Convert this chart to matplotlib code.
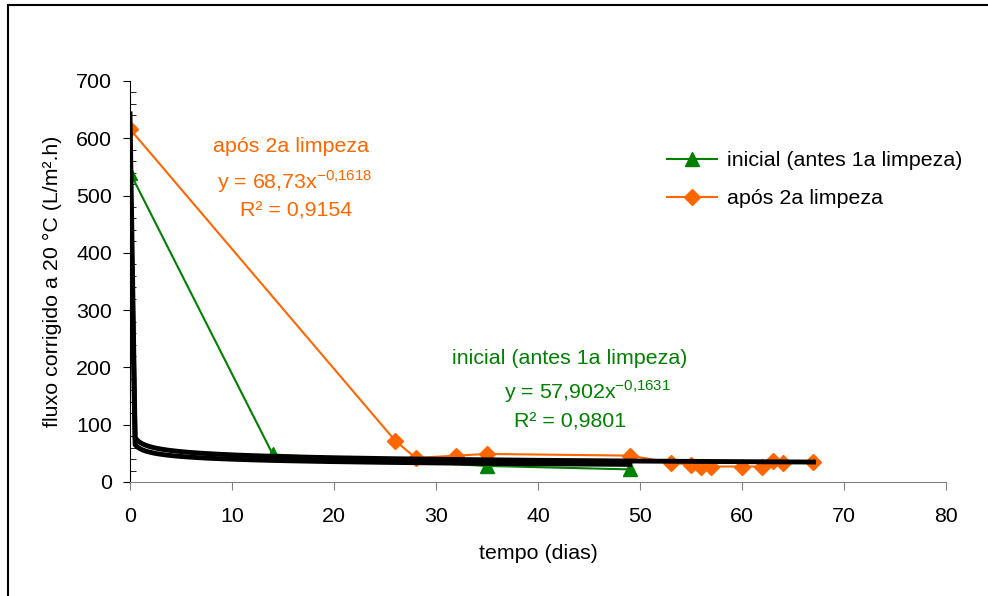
import matplotlib
matplotlib.use("Agg")
import matplotlib.pyplot as plt
import numpy as np

plt.rcParams['font.family'] = ['Liberation Sans', 'DejaVu Sans']
plt.rcParams['mathtext.fontset'] = 'custom'
plt.rcParams['mathtext.rm'] = 'Liberation Sans'

# dados
x_ini = [0, 14, 35, 49]
y_ini = [540, 48, 28, 22]

x_apos = [0, 26, 28, 32, 35, 49, 53, 55, 56, 57, 60, 62, 63, 64, 67]
y_apos = [616, 72, 42, 46, 49, 46, 34, 30, 27, 27, 27, 27, 36, 33, 35]

# linhas de tendencia (potencia)
a_ini, b_ini = 57.902, -0.1631
a_apos, b_apos = 68.73, -0.1618

verde = '#008000'
laranja = '#FF6600'
fs = 15.4

fig = plt.figure(figsize=(9.88, 5.96), dpi=100)
ax = fig.add_axes([0.1316, 0.1913, 0.8259, 0.6728])

# moldura da figura
fig.patches.append(plt.Rectangle((8/988, -0.1), 1.2, 1 - 5/596 + 0.1,
                                 transform=fig.transFigure, fill=False,
                                 edgecolor='black', lw=1.5))

ax.plot(x_ini, y_ini, color=verde, lw=1.5, marker='^', ms=10,
        label='inicial (antes 1a limpeza)', zorder=3)
ax.plot(x_apos, y_apos, color=laranja, lw=1.5, marker='D', ms=8,
        label='após 2a limpeza', zorder=3)

xt1 = np.concatenate([[1e-6], np.linspace(0.5, max(x_ini), 200)])
xt2 = np.concatenate([[1e-6], np.linspace(0.5, max(x_apos), 200)])
ax.plot(xt1, a_ini * xt1**b_ini, color='black', lw=3.5, zorder=4)
ax.plot(xt2, a_apos * xt2**b_apos, color='black', lw=3.5, zorder=4)

ax.set_xlim(0, 80)
ax.set_ylim(0, 700)
ax.set_xticks(np.arange(0, 81, 10))
ax.set_yticks(np.arange(0, 701, 100))
ax.set_yticks(np.arange(0, 701, 20), minor=True)
ax.tick_params(axis='both', labelsize=fs)
ax.tick_params(axis='x', direction='out', length=6, color='#808080', pad=12)
ax.tick_params(axis='y', which='major', direction='out', length=5, pad=8)
ax.tick_params(axis='y', which='minor', direction='in', length=4)
ax.tick_params(axis='x', which='minor', bottom=False)

for s in ['top', 'right']:
    ax.spines[s].set_visible(False)
ax.spines['bottom'].set_color('#808080')
ax.spines['left'].set_color('black')

ax.set_xlabel('tempo (dias)', fontsize=fs, labelpad=13)
ax.set_ylabel('fluxo corrigido a 20 °C (L/m².h)', fontsize=fs, labelpad=10)

ax.text(15.8, 585, 'após 2a limpeza', color=laranja, fontsize=fs, ha='center', va='center')
ax.text(16.1, 524, r'y = 68,73x$^{\mathregular{-0{,}1618}}$', color=laranja, fontsize=fs, ha='center', va='center')
ax.text(16.3, 473, 'R² = 0,9154', color=laranja, fontsize=fs, ha='center', va='center')

ax.text(43.1, 216, 'inicial (antes 1a limpeza)', color=verde, fontsize=fs, ha='center', va='center')
ax.text(44.8, 157, r'y = 57,902x$^{\mathregular{-0{,}1631}}$', color=verde, fontsize=fs, ha='center', va='center')
ax.text(43.1, 105, 'R² = 0,9801', color=verde, fontsize=fs, ha='center', va='center')

ax.legend(loc='upper left', bbox_to_anchor=(0.635, 0.873), frameon=False,
          fontsize=fs, handlelength=2.3, handletextpad=0.5, labelspacing=0.9)

fig.savefig('out.png', dpi=100)
